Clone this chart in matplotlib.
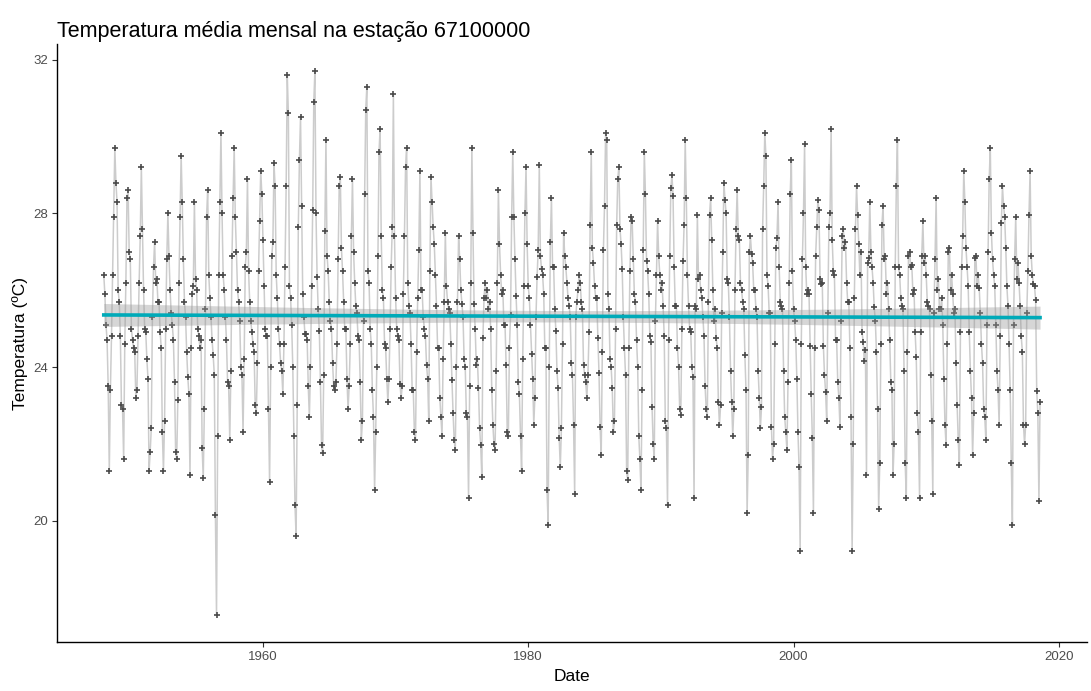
import numpy as np
import matplotlib.pyplot as plt

# monthly mean temperature, station 67100000
start_year = 1948

temp_1948_1949 = [
    26.4, 25.9, 25.1, 24.7, 23.5, 21.3, 23.4, 24.8, 26.4, 27.9, 29.7, 28.8,
    28.3, 26.0, 25.7, 24.8, 23.0, 22.9, 21.6, 24.6, 26.2, 28.4, 28.6, 27.0,
]

temp_1950s = [
    26.8, 25.0, 24.7, 24.5, 24.4, 23.2, 23.4, 24.8, 26.2, 27.4, 29.2, 27.6,
    26.0, 25.0, 24.9, 24.2, 23.7, 21.3, 21.8, 22.4, 25.3, 26.6, 27.25, 26.2,
    26.3, 25.7, 25.7, 24.9, 24.5, 22.3, 21.3, 22.6, 25.0, 26.8, 28.0, 26.9,
    26.0, 25.4, 25.1, 24.7, 23.6, 21.8, 21.6, 23.15, 26.2, 27.9, 29.5, 28.3,
    26.8, 25.7, 25.3, 24.4, 23.75, 23.3, 21.2, 24.5, 25.9, 26.1, 28.3, 26.3,
    26.0, 25.0, 24.8, 24.5, 24.7, 21.9, 21.1, 22.9, 25.5, 27.9, 28.6, 26.4,
    25.8, 25.3, 24.7, 24.3, 23.8, 20.15, 17.55, 22.2, 26.4, 28.3, 30.1, 28.0,
    26.4, 26.0, 25.3, 24.7, 23.6, 23.5, 22.1, 23.9, 26.9, 28.4, 29.7, 27.9,
    27.0, 26.0, 25.7, 25.2, 24.0, 23.8, 22.3, 24.2, 26.6, 27.0, 28.9, 26.5,
    25.7, 25.2, 24.9, 24.6, 24.4, 23.0, 22.8, 24.1, 26.5, 27.8, 29.1, 28.5,
]

temp_1960s = [
    27.3, 26.1, 25.0, 24.8, 24.8, 22.9, 21.0, 24.0, 26.9, 27.25, 29.3, 28.7,
    26.4, 25.8, 25.0, 24.6, 24.1, 23.9, 23.3, 24.6, 26.6, 28.7, 31.6, 30.6,
    26.1, 25.8, 25.1, 24.0, 22.2, 20.4, 19.6, 23.0, 27.65, 29.4, 30.5, 28.2,
    25.9, 25.3, 24.85, 24.85, 24.7, 23.5, 22.7, 24.0, 26.1, 28.1, 30.9, 31.7,
    28.0, 26.35, 25.5, 24.95, 23.6, 21.96, 21.75, 23.8, 27.55, 29.9, 26.9, 26.5,
    25.7, 25.2, 25.0, 24.1, 23.5, 23.4, 23.6, 24.6, 26.8, 28.7, 28.95, 27.1,
    26.5, 25.7, 25.0, 25.0, 23.7, 22.9, 23.5, 24.6, 27.4, 28.9, 27.0, 26.2,
    25.6, 25.4, 24.8, 24.7, 23.6, 22.1, 22.6, 25.2, 28.5, 30.7, 31.3, 26.5,
    26.2, 25.0, 24.6, 23.4, 22.7, 20.8, 22.3, 24.0, 26.9, 29.6, 30.2, 27.4,
    26.0, 25.8, 24.6, 24.5, 23.7, 23.1, 23.7, 25.0, 26.6, 27.65, 31.1, 27.4,
]

temp_1970s = [
    25.8, 25.0, 24.8, 24.7, 23.55, 23.2, 23.5, 25.9, 27.4, 29.2, 29.7, 26.2,
    25.6, 25.4, 24.6, 23.4, 23.4, 22.3, 22.1, 24.4, 25.8, 27.05, 29.1, 26.0,
    26.0, 25.3, 25.0, 24.8, 24.05, 23.7, 22.6, 26.5, 28.95, 28.3, 27.65, 27.2,
    26.4, 25.6, 24.5, 24.5, 23.2, 22.7, 22.2, 24.2, 25.7, 27.5, 26.1, 25.7,
    25.5, 25.4, 24.6, 23.65, 22.8, 22.1, 21.85, 24.0, 25.7, 27.4, 26.8, 26.0,
    25.65, 25.3, 24.2, 24.0, 22.8, 22.7, 20.6, 23.5, 26.2, 29.7, 27.5, 25.65,
    25.0, 24.05, 24.2, 23.45, 22.4, 21.96, 21.15, 24.75, 25.8, 26.2, 25.8, 26.0,
    25.5, 25.7, 25.0, 23.4, 22.5, 22.0, 21.85, 23.9, 26.2, 28.6, 27.2, 26.4,
    25.9, 26.0, 25.1, 25.1, 24.05, 22.3, 22.2, 24.5, 25.35, 27.9, 29.6, 27.9,
    26.8, 25.85, 25.1, 23.6, 23.3, 22.2, 21.3, 24.2, 26.1, 28.0, 29.2, 27.2,
]

temp_1980s = [
    26.1, 25.8, 25.1, 24.35, 23.7, 22.5, 23.2, 25.3, 26.35, 27.05, 29.25, 26.9,
    26.55, 26.4, 25.9, 24.5, 24.5, 20.8, 19.9, 24.0, 27.25, 28.4, 26.6, 26.6,
    25.5, 24.95, 23.9, 23.45, 22.15, 21.4, 22.4, 24.6, 27.5, 26.9, 26.6, 26.2,
    25.8, 25.6, 25.3, 24.1, 23.8, 22.5, 20.7, 25.3, 25.7, 26.0, 26.4, 26.2,
    25.7, 25.5, 24.05, 23.8, 23.6, 23.2, 23.8, 24.9, 27.7, 29.6, 27.1, 26.7,
    26.1, 25.8, 25.8, 24.75, 23.85, 22.45, 21.7, 24.4, 27.05, 28.2, 30.1, 29.9,
    25.9, 25.5, 24.2, 24.0, 23.45, 22.3, 22.6, 25.0, 27.7, 28.9, 29.2, 27.6,
    27.2, 26.55, 25.3, 24.5, 23.8, 21.3, 21.06, 24.5, 26.5, 27.9, 27.8, 26.8,
    25.9, 25.7, 24.7, 24.0, 22.2, 21.6, 20.8, 23.4, 27.05, 29.6, 28.5, 26.75,
    26.5, 25.9, 24.8, 24.65, 22.95, 22.0, 21.6, 25.2, 26.4, 27.8, 26.9, 26.4,
]

temp_1990s = [
    26.0, 26.2, 25.6, 24.8, 22.6, 22.4, 20.4, 24.7, 26.9, 28.65, 29.0, 28.45,
    26.6, 25.6, 25.6, 24.5, 24.0, 22.9, 22.75, 25.0, 26.75, 27.7, 29.9, 28.4,
    26.4, 25.6, 25.0, 24.9, 24.0, 23.75, 20.6, 25.6, 25.5, 27.95, 26.3, 26.4,
    26.0, 25.8, 25.3, 24.8, 23.5, 22.9, 22.7, 25.7, 27.95, 28.4, 27.3, 26.0,
    25.2, 25.5, 24.75, 24.5, 23.1, 22.5, 23.0, 25.4, 27.0, 28.8, 28.35, 28.0,
    26.3, 26.2, 25.3, 23.9, 23.1, 22.2, 22.9, 26.0, 27.6, 28.6, 27.4, 27.3,
    26.2, 26.0, 25.7, 25.5, 24.3, 23.4, 20.2, 21.7, 27.0, 27.4, 26.95, 26.7,
    26.0, 26.0, 25.5, 25.3, 23.9, 23.2, 22.4, 22.95, 27.6, 28.7, 30.1, 29.5,
    26.4, 26.1, 25.4, 25.4, 22.45, 21.6, 22.0, 24.6, 27.1, 27.35, 28.3, 26.6,
    25.7, 25.6, 25.5, 23.9, 22.7, 22.3, 21.85, 23.6, 26.2, 28.5, 29.4, 26.5,
]

temp_2000s = [
    25.5, 25.2, 24.7, 23.7, 22.3, 21.4, 19.2, 24.6, 26.8, 28.0, 29.8, 26.6,
    25.9, 26.0, 25.9, 24.55, 23.3, 22.15, 20.2, 24.5, 26.9, 27.65, 28.35, 28.1,
    26.3, 26.15, 26.2, 24.55, 23.8, 23.35, 22.6, 25.4, 27.65, 28.0, 30.2, 27.3,
    26.5, 26.4, 24.7, 24.7, 23.6, 23.2, 22.45, 25.2, 27.4, 27.6, 27.1, 27.25,
    26.2, 25.7, 25.7, 24.5, 22.7, 19.2, 22.0, 25.8, 27.6, 28.7, 27.95, 27.2,
    26.4, 27.0, 24.9, 24.65, 24.15, 24.45, 21.2, 26.7, 26.85, 28.3, 27.0, 26.6,
    26.2, 25.55, 25.2, 24.4, 22.9, 20.3, 21.5, 24.6, 27.7, 28.2, 26.8, 26.9,
    25.9, 26.2, 25.5, 24.7, 23.6, 23.4, 21.2, 22.0, 26.6, 28.7, 29.9, 26.6,
    26.4, 25.8, 25.6, 25.5, 23.9, 21.5, 20.6, 24.4, 26.9, 27.0, 26.6, 26.65,
    25.9, 26.0, 24.9, 24.25, 22.8, 22.3, 20.6, 24.9, 26.9, 27.8, 26.7, 26.9,
]

temp_2010s = [
    26.4, 25.7, 25.6, 25.5, 23.8, 22.6, 20.7, 25.4, 26.8, 28.4, 26.0, 26.3,
    25.5, 25.5, 25.8, 25.1, 23.7, 22.5, 21.96, 24.6, 27.0, 27.1, 26.0, 26.4,
    25.9, 25.4, 25.5, 24.1, 23.0, 22.1, 21.45, 24.9, 26.6, 27.4, 29.1, 28.3,
    27.1, 26.6, 26.1, 24.9, 23.9, 23.2, 21.7, 22.8, 26.85, 26.9, 26.1, 26.4,
    26.05, 25.4, 24.6, 24.1, 22.9, 22.7, 22.1, 25.1, 27.0, 28.9, 29.7, 27.5,
    26.8, 26.4, 26.1, 25.1, 23.9, 23.4, 22.5, 24.8, 27.75, 28.7, 28.2, 27.9,
    27.1, 26.1, 25.6, 24.6, 23.4, 21.5, 19.9, 25.1, 26.8, 27.9, 26.3, 26.7,
    26.2, 25.6, 24.8, 24.4, 22.5, 22.0, 22.5, 25.4, 26.5, 27.95, 29.1, 26.9,
    26.4, 26.15, 26.1, 25.75, 23.37, 22.8, 20.5, 23.1,
]

x_ticks = [1960, 1980, 2000, 2020]
y_ticks = [20, 24, 28, 32]

# =========================
# Build series
# =========================
temp = np.array(temp_1948_1949 + temp_1950s + temp_1960s + temp_1970s
                + temp_1980s + temp_1990s + temp_2000s + temp_2010s)
date = start_year + np.arange(len(temp)) / 12.0

# linear fit with 95% confidence band (like geom_smooth(method = "lm"))
n = len(temp)
slope, intercept = np.polyfit(date, temp, 1)
resid = temp - (slope * date + intercept)
s = np.sqrt(np.sum(resid ** 2) / (n - 2))
xbar = date.mean()
sxx = np.sum((date - xbar) ** 2)
xf = np.linspace(date.min(), date.max(), 200)
yf = slope * xf + intercept
se = s * np.sqrt(1.0 / n + (xf - xbar) ** 2 / sxx)
ci = 1.963 * se

# =========================
# Plot
# =========================
plt.rcParams["font.family"] = ["Liberation Sans", "DejaVu Sans"]

fig = plt.figure(figsize=(10.91, 6.91), dpi=100)
ax = fig.add_axes([0.0522, 0.0709, 0.9440, 0.8654])

ax.plot(date, temp, color="#CCCCCC", linewidth=1.1, zorder=1)
ax.plot(date, temp, linestyle="none", marker="+", markersize=4.5,
        markeredgewidth=1.2, color="#4A4A4A", zorder=2)
ax.fill_between(xf, yf - ci, yf + ci, color="#999999", alpha=0.4,
                linewidth=0, zorder=3)
ax.plot(xf, yf, color="#00AAB8", linewidth=2.6, zorder=4)

# ggplot-style 5% expansion
xr = date.max() - date.min()
yr = temp.max() - temp.min()
ax.set_xlim(date.min() - 0.05 * xr, date.max() + 0.05 * xr)
ax.set_ylim(temp.min() - 0.05 * yr, temp.max() + 0.05 * yr)

ax.set_xticks(x_ticks)
ax.set_xticklabels([str(t) for t in x_ticks])
ax.set_yticks(y_ticks)
ax.set_yticklabels([str(t) for t in y_ticks])
ax.tick_params(axis="both", direction="out", length=3.5, width=0.8,
               color="#333333", labelcolor="#4D4D4D", labelsize=9.5, pad=3)

for side in ["top", "right"]:
    ax.spines[side].set_visible(False)
for side in ["left", "bottom"]:
    ax.spines[side].set_linewidth(1.0)
    ax.spines[side].set_color("black")

ax.set_xlabel("Date", fontsize=12.5, labelpad=4)
ax.set_ylabel("Temperatura (ºC)", fontsize=12.5, labelpad=4)
ax.set_title("Temperatura média mensal na estação 67100000", loc="left",
             fontsize=15.5, pad=5)

fig.savefig("out.png", dpi=100)
plt.close(fig)
